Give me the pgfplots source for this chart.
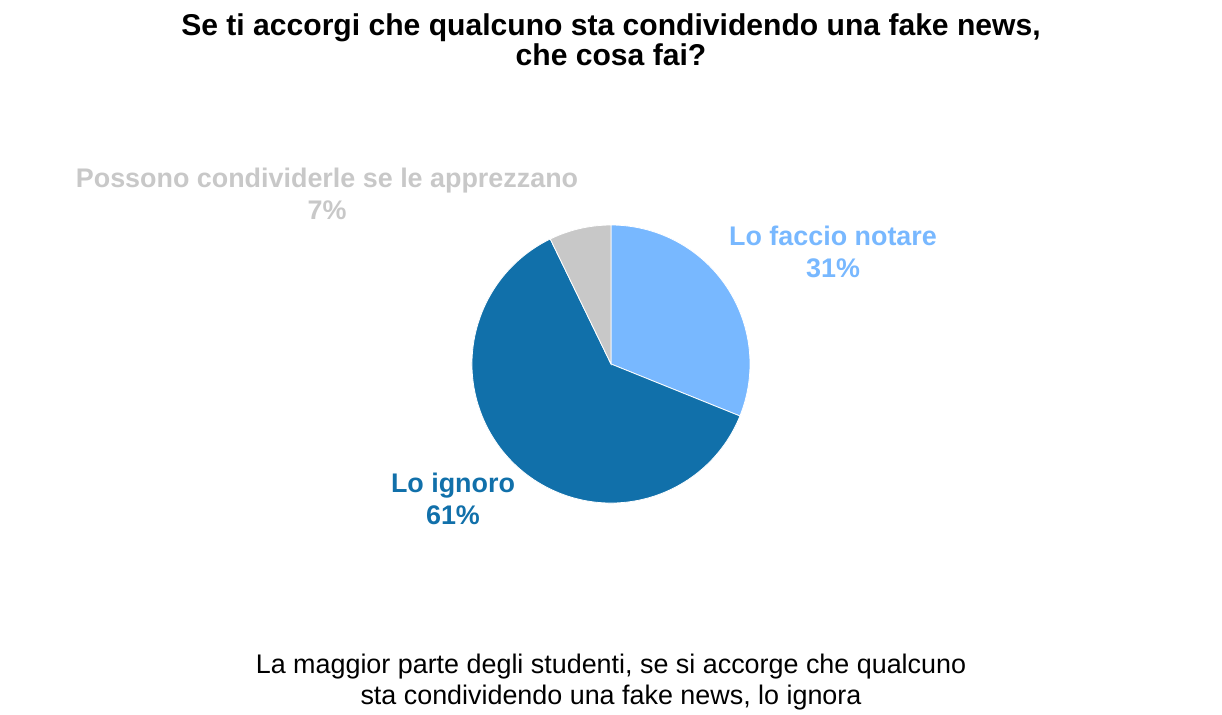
\documentclass[border=0pt]{standalone}
\usepackage{pgfplots}
\pgfplotsset{compat=1.18}
\usepackage{fontspec}
\setmainfont{Liberation Sans}
\definecolor{cLight}{HTML}{78B8FF}
\definecolor{cDark}{HTML}{1170AA}
\definecolor{cGray}{HTML}{C8C8C8}
% shares (percent), clockwise from 12 o'clock
\def\vA{31.1}\def\vB{61.7}\def\vC{7.2}
\begin{document}
\begin{tikzpicture}
\begin{axis}[
  scale only axis, width=1222bp, height=715bp,
  xmin=0, xmax=1222, ymin=0, ymax=715, y dir=reverse,
  hide axis, clip=false,
]
\path (axis cs:0,0) rectangle (axis cs:1222,715);
\pgfmathsetmacro{\aA}{90-3.6*\vA}
\pgfmathsetmacro{\aB}{\aA-3.6*\vB}
\pgfmathsetmacro{\aC}{\aB-3.6*\vC}
\def\R{139bp}
\fill[cLight, draw=white, line width=0.8pt] (axis cs:611,364) -- +(90:\R) arc[start angle=90, end angle=\aA, radius=\R] -- cycle;
\fill[cDark, draw=white, line width=0.8pt] (axis cs:611,364) -- +(\aA:\R) arc[start angle=\aA, end angle=\aB, radius=\R] -- cycle;
\fill[cGray, draw=white, line width=0.8pt] (axis cs:611,364) -- +(\aB:\R) arc[start angle=\aB, end angle=\aC, radius=\R] -- cycle;
% title
\node[align=center, font=\fontsize{30.2}{30}\selectfont\bfseries] at (axis cs:611,40)
  {Se ti accorgi che qualcuno sta condividendo una fake news,\\che cosa fai?};
% labels
\node[align=center, text=cGray, font=\fontsize{27}{32}\selectfont\bfseries] at (axis cs:327,194)
  {Possono condividerle se le apprezzano\\7\%};
\node[align=center, text=cLight, font=\fontsize{27}{32}\selectfont\bfseries] at (axis cs:833,252)
  {Lo faccio notare\\31\%};
\node[align=center, text=cDark, font=\fontsize{27}{32}\selectfont\bfseries] at (axis cs:453,499)
  {Lo ignoro\\61\%};
% caption
\node[align=center, font=\fontsize{27}{31}\selectfont] at (axis cs:611,682)
  {La maggior parte degli studenti, se si accorge che qualcuno\\sta condividendo una fake news, lo ignora};
\end{axis}
\end{tikzpicture}
\end{document}
